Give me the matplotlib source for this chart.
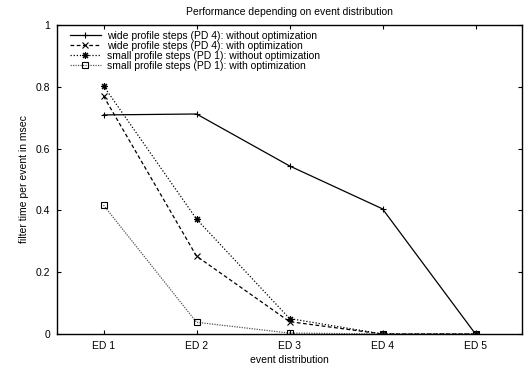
import matplotlib
matplotlib.use('Agg')
import matplotlib.pyplot as plt

plt.rcParams['font.family'] = ['Liberation Sans', 'DejaVu Sans']

categories = ['ED 1', 'ED 2', 'ED 3', 'ED 4', 'ED 5']
wide_without = [0.709, 0.712, 0.544, 0.405, 0.0]
wide_with = [0.770, 0.252, 0.040, 0.0, 0.0]
small_without = [0.803, 0.372, 0.050, 0.0, 0.0]
small_with = [0.417, 0.038, 0.003, 0.0, 0.0]

series = [
    ('wide profile steps (PD 4): without optimization', wide_without,
     dict(color='black', linestyle='-', marker='+', markersize=5)),
    ('wide profile steps (PD 4): with optimization', wide_with,
     dict(color='black', linestyle=(0, (3, 2)), marker='x', markersize=4)),
    ('small profile steps (PD 1): without optimization', small_without,
     dict(color='black', linestyle=(0, (1, 1.5)), marker=(8, 2, 0), markersize=5)),
    ('small profile steps (PD 1): with optimization', small_with,
     dict(color='#555555', linestyle=(0, (1, 1)), marker='s', markersize=4,
          markerfacecolor='none', markeredgecolor='black')),
]

fs = 7.5

fig = plt.figure(figsize=(5.26, 3.7), dpi=100)
ax = fig.add_axes([0.1084, 0.0973, 0.8840, 0.8351])

x = list(range(1, len(categories) + 1))
for label, values, style in series:
    ax.plot(x, values, label=label, linewidth=0.9, markeredgewidth=0.8, **style)

ax.set_xlim(0.5, 5.5)
ax.set_ylim(0, 1)
ax.set_xticks(x)
ax.set_xticklabels(categories)
ax.set_yticks([0, 0.2, 0.4, 0.6, 0.8, 1])
ax.set_yticklabels(['0', '0.2', '0.4', '0.6', '0.8', '1'])
ax.tick_params(direction='in', top=True, right=True, labelsize=fs, length=3,
               width=0.8, pad=5)
for sp in ax.spines.values():
    sp.set_linewidth(1.0)

ax.set_xlabel('event distribution', fontsize=fs, labelpad=3)
ax.set_ylabel('filter time per event in msec', fontsize=fs, labelpad=5)
ax.set_title('Performance depending on event distribution', fontsize=fs, pad=7)

ax.legend(loc='upper left', frameon=False, fontsize=fs, handlelength=3.0,
          labelspacing=0.0, borderaxespad=0.15, handletextpad=0.6,
          bbox_to_anchor=(0.015, 1.0))

fig.savefig('out.png', dpi=100)
